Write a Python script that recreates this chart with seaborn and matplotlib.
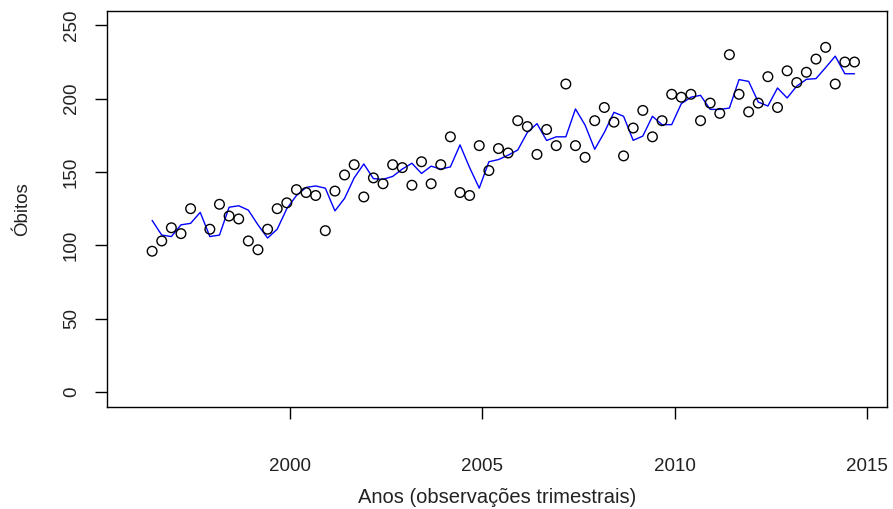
import numpy as np
import pandas as pd
import matplotlib
matplotlib.use("Agg")
import matplotlib.pyplot as plt
import seaborn as sns

# Quarterly observations, first one in June 1996 (decimal-year positions)
first_obs = 1996 + 5 / 12
n_obs = 74
anos = first_obs + 0.25 * np.arange(n_obs)

# Observed deaths per quarter (one quarter without a record)
obitos = [
    96, 103, 112, 108, 125, np.nan, 111, 128, 120, 118,
    103, 97, 111, 125, 129, 138, 136, 134, 110, 137,
    148, 155, 133, 146, 142, 155, 153, 141, 157, 142,
    155, 174, 136, 134, 168, 151, 166, 163, 185, 181,
    162, 179, 168, 210, 168, 160, 185, 194, 184, 161,
    180, 192, 174, 185, 203, 201, 203, 185, 197, 190,
    230, 203, 191, 197, 215, 194, 219, 211, 218, 227,
    235, 210, 225, 225,
]

# Fitted values of the model
ajustado = [
    117, 107, 106, 114, 115, 122.5, 106, 107, 126, 127,
    124, 114, 105, 111, 125, 134, 139.5, 140.5, 139, 123.5,
    132, 146, 155.5, 145.5, 145, 147, 152, 156, 149, 154,
    152, 153.5, 168.5, 153, 139, 157, 158.5, 161.5, 165, 177,
    183, 171.5, 174, 174, 193, 182, 165.5, 177, 190.7, 188,
    171.6, 174.5, 188, 182.3, 182.3, 196.6, 201, 202.3, 192.7, 192.7,
    193.6, 213, 211.8, 197.7, 195, 207.3, 200.5, 208.6, 213.2, 213.7,
    221.2, 229, 217, 217,
]

x_ticks = [2000, 2005, 2010, 2015]
y_ticks = [0, 50, 100, 150, 200, 250]

df = pd.DataFrame({"ano": anos, "obitos": obitos, "ajustado": ajustado})

sns.set_style("ticks")
plt.rcParams["font.family"] = ["Liberation Sans", "DejaVu Sans"]

fig = plt.figure(figsize=(8.93, 5.09), dpi=100)
ax = fig.add_axes([0.1202, 0.201, 0.8731, 0.778])

sns.scatterplot(data=df, x="ano", y="obitos", ax=ax, marker="o", s=48,
                facecolor="none", edgecolor="black", linewidth=1.0, zorder=3)
sns.lineplot(data=df, x="ano", y="ajustado", ax=ax, color="#0000FF",
             linewidth=1.0, zorder=2)

ax.set_xlim(1995.253, 2015.512)
ax.set_ylim(-10, 260)
ax.set_xticks(x_ticks)
ax.set_yticks(y_ticks)
ax.set_xticklabels([str(t) for t in x_ticks])
ax.set_yticklabels([str(t) for t in y_ticks], rotation=90, va="center")

for side in ["top", "right", "bottom", "left"]:
    ax.spines[side].set_visible(True)
    ax.spines[side].set_color("black")
    ax.spines[side].set_linewidth(1.0)

ax.tick_params(axis="both", which="major", direction="out", length=8.6,
               width=1.0, color="black", labelsize=13.5, labelcolor="#222222",
               bottom=True, left=True, top=False, right=False)
ax.tick_params(axis="x", pad=28)
ax.tick_params(axis="y", pad=11)

ax.set_xlabel("Anos (observações trimestrais)", fontsize=14.5, color="#222222")
ax.set_ylabel("Óbitos", fontsize=13.5, color="#222222")
ax.xaxis.set_label_coords(0.5, -0.205)
ax.yaxis.set_label_coords(-0.098, 0.5)

fig.savefig("out.png", dpi=100)
